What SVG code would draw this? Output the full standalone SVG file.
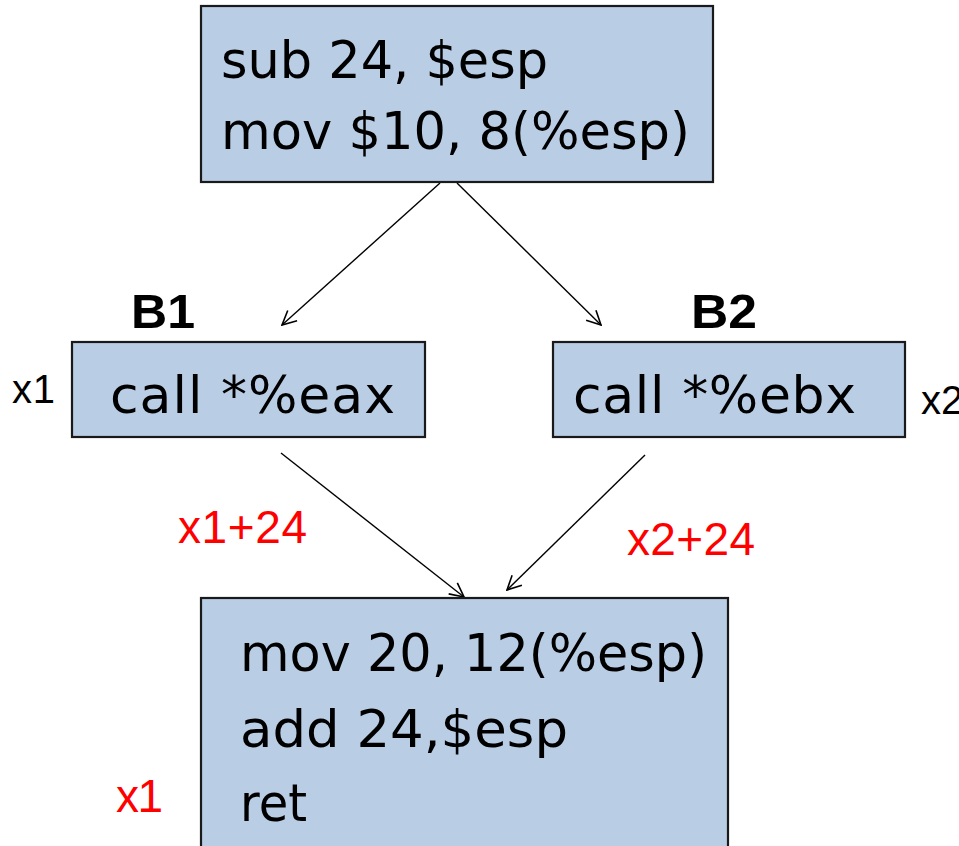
<svg xmlns="http://www.w3.org/2000/svg" width="959" height="846" viewBox="0 0 959 846">
  <style>
    .blk { fill: #b9cde5; stroke: #1a1a1a; stroke-width: 2.2; }
    .code { font-family: "DejaVu Sans", "Liberation Sans", sans-serif; font-size: 52px; fill: #000; }
    .tag { font-family: "Liberation Sans", Arial, sans-serif; font-weight: bold; font-size: 48px; fill: #000; }
    .note { font-family: "Liberation Sans", Arial, sans-serif; font-size: 40px; fill: #000; }
    .red { font-family: "Liberation Sans", Arial, sans-serif; font-size: 46px; fill: #ff0000; }
    .edge { stroke: #000; stroke-width: 1.4; fill: none; marker-end: url(#open); }
  </style>
  <defs>
    <marker id="open" viewBox="0 0 16 16" refX="15" refY="8" markerWidth="16" markerHeight="16" markerUnits="userSpaceOnUse" orient="auto">
      <path d="M1,1 L15,8 L1,15" fill="none" stroke="#000" stroke-width="1.6"/>
    </marker>
  </defs>

  <rect width="959" height="846" fill="#ffffff"/>

  <!-- connectors -->
  <g id="edges">
    <line class="edge" x1="440" y1="183" x2="282" y2="325"/>
    <line class="edge" x1="457" y1="183" x2="601" y2="325"/>
    <line class="edge" x1="281" y1="453" x2="464" y2="597"/>
    <line class="edge" x1="645" y1="455" x2="507" y2="590"/>
  </g>

  <!-- entry block -->
  <g id="entry">
    <rect class="blk" x="201" y="6" width="512" height="176"/>
    <text class="code" x="221" y="78" textLength="327" lengthAdjust="spacingAndGlyphs">sub 24, $esp</text>
    <text class="code" x="221" y="149" textLength="469" lengthAdjust="spacingAndGlyphs">mov $10, 8(%esp)</text>
  </g>

  <!-- block B1 -->
  <g id="b1">
    <text class="tag" x="131" y="328" textLength="64" lengthAdjust="spacingAndGlyphs">B1</text>
    <rect class="blk" x="72" y="342" width="353" height="95"/>
    <text class="code" x="110" y="413" textLength="285" lengthAdjust="spacing">call *%eax</text>
    <text class="note" x="12" y="403" textLength="43" lengthAdjust="spacing">x1</text>
  </g>

  <!-- block B2 -->
  <g id="b2">
    <text class="tag" x="691" y="328" textLength="66" lengthAdjust="spacingAndGlyphs">B2</text>
    <rect class="blk" x="553" y="342" width="352" height="95"/>
    <text class="code" x="573" y="413" textLength="283" lengthAdjust="spacing">call *%ebx</text>
    <text class="note" x="921" y="414">x2</text>
  </g>

  <!-- edge annotations -->
  <g id="labels">
    <text class="red" x="178" y="543" textLength="129" lengthAdjust="spacing">x1+24</text>
    <text class="red" x="627" y="555" textLength="128" lengthAdjust="spacing">x2+24</text>
  </g>

  <!-- exit block -->
  <g id="exit">
    <rect class="blk" x="201" y="598" width="527" height="260"/>
    <text class="code" x="240" y="671" textLength="467" lengthAdjust="spacingAndGlyphs">mov 20, 12(%esp)</text>
    <text class="code" x="240" y="747" textLength="328" lengthAdjust="spacingAndGlyphs">add 24,$esp</text>
    <text class="code" x="240" y="821" textLength="67" lengthAdjust="spacingAndGlyphs">ret</text>
    <text class="red" x="116" y="812" textLength="47" lengthAdjust="spacing">x1</text>
  </g>
</svg>
